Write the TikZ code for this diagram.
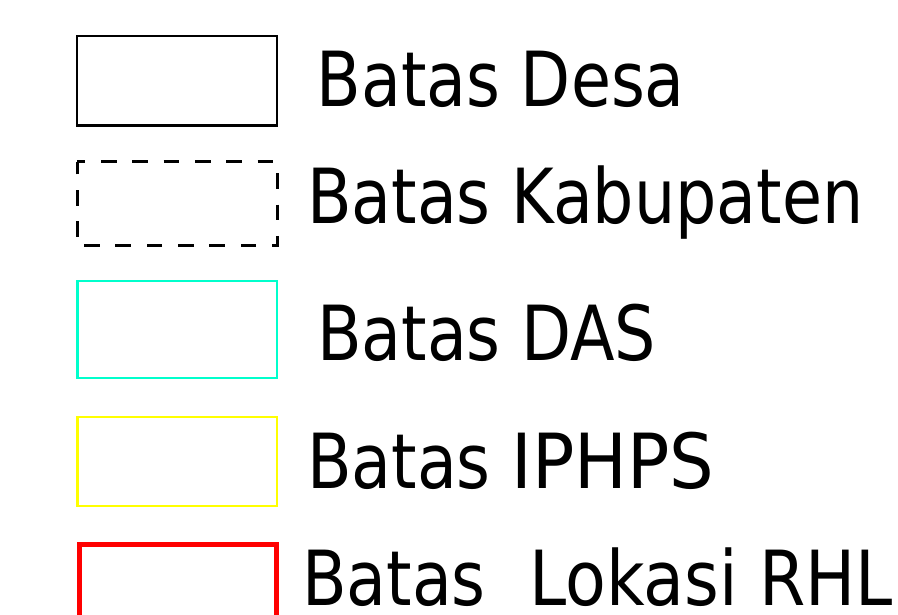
\documentclass[tikz,border=0pt]{standalone}
\usepackage{graphicx}
\usepackage{fontspec}
\setmainfont{DejaVu Sans}[FakeStretch=0.856]
\definecolor{dascol}{RGB}{0,255,204}
\definecolor{iphpscol}{RGB}{255,255,0}
\definecolor{rhlcol}{RGB}{255,0,0}
\begin{document}
\begin{tikzpicture}[x=1pt,y=-1pt,
  legtext/.style={anchor=base west,inner sep=0pt,outer sep=0pt,font=\fontsize{76}{80}\selectfont},
  legbox/.style={line join=miter}]
\clip (0,0) rectangle (898,615);
\fill[white] (0,0) rectangle (898,615);
% boxes
\draw[legbox,black,line width=2.3pt] (77,36) rectangle (277,125.5);
\draw[legbox,black,line width=3pt,dash pattern=on 15.5pt off 15.8pt,dash phase=7.5pt]
  (77.3,161.7) -- (277.3,161.7) -- (277.3,246) -- (77.3,246) -- cycle;
\draw[legbox,dascol,line width=2.3pt] (77.5,281) rectangle (277,378.3);
\draw[legbox,iphpscol,line width=2.3pt] (77.5,416.7) rectangle (277,506);
\draw[legbox,rhlcol,line width=5pt] (79,544) rectangle (276,660);
% labels
\node[legtext] (desa) at (316.5,106.7) {Batas Desa};
\node[legtext] (kab) at (307,223.3) {Batas Kabupaten};
\node[legtext] (das) at (317,360) {Batas DAS};
\node[legtext] (iphps) at (307,488) {Batas \scalebox{1.08}[1]{IPHPS}};
\node[legtext] (rhl) at (302,605) {Batas\hspace{44pt}\scalebox{1.025}[1]{Lokasi RHL}};
\end{tikzpicture}
\end{document}
